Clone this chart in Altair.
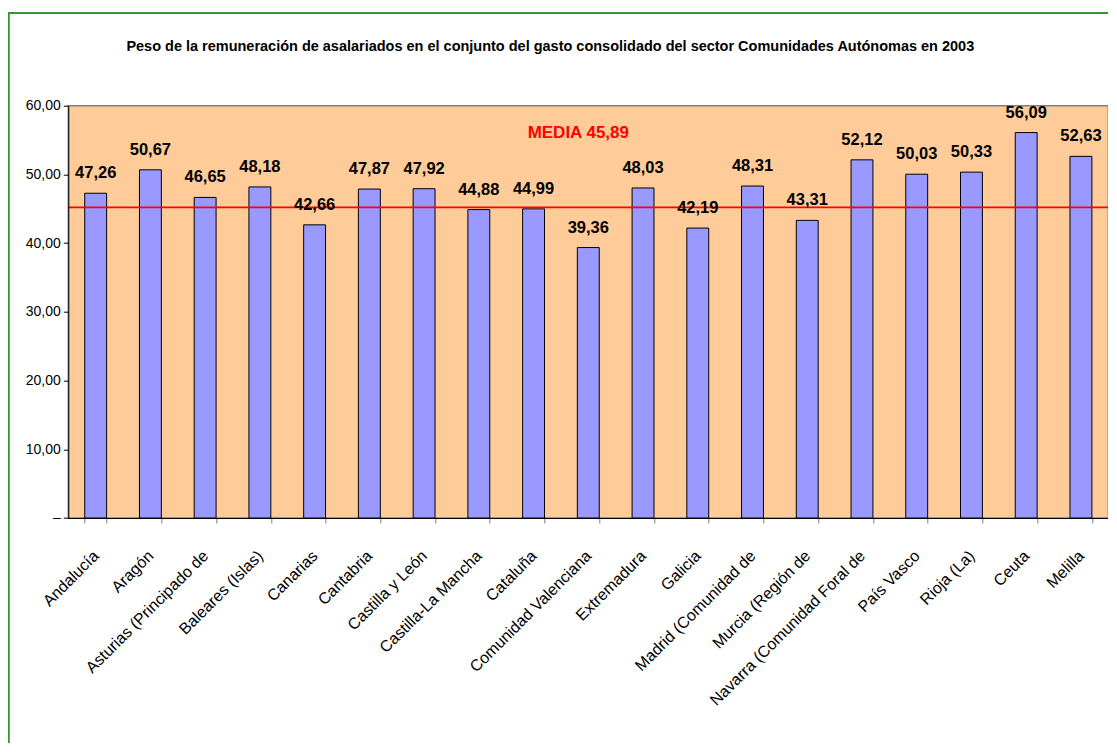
import altair as alt
import pandas as pd

categories = [
    "Andalucía", "Aragón", "Asturias (Principado de", "Baleares (Islas)",
    "Canarias", "Cantabria", "Castilla y León", "Castilla-La Mancha",
    "Cataluña", "Comunidad Valenciana", "Extremadura", "Galicia",
    "Madrid (Comunidad de", "Murcia (Región de", "Navarra (Comunidad Foral de",
    "País Vasco", "Rioja (La)", "Ceuta", "Melilla",
]
values = [47.26, 50.67, 46.65, 48.18, 42.66, 47.87, 47.92, 44.88, 44.99, 39.36,
          48.03, 42.19, 48.31, 43.31, 52.12, 50.03, 50.33, 56.09, 52.63]
media = 45.89          # value printed in the annotation
media_line = 45.2      # height at which the red line is drawn in the picture
y_ticks = [0, 10, 20, 30, 40, 50, 60]
title_text = ("Peso de la remuneración de asalariados en el conjunto del gasto "
              "consolidado del sector Comunidades Autónomas en 2003")

FONT = "Liberation Sans, Arial, sans-serif"

df = pd.DataFrame({"cat": categories, "val": values})
df["lab"] = [f"{v:.2f}".replace(".", ",") for v in values]

W = 1040
H = 412.3

x_enc = alt.X(
    "cat:N", sort=categories,
    scale=alt.Scale(paddingInner=0.6, paddingOuter=0.3),
    axis=alt.Axis(title=None, labelAngle=-45, labelAlign="right", labelBaseline="middle",
                  labelFontSize=16, labelFont=FONT, labelColor="black", labelPadding=30,
                  labelLimit=500, tickBand="extent", tickSize=5, tickColor="#808080",
                  domainColor="black", zindex=1),
)
y_enc = alt.Y(
    "val:Q",
    scale=alt.Scale(domain=[0, 60], nice=False),
    axis=alt.Axis(title=None, values=y_ticks, grid=False, labelFontSize=14, labelFont=FONT,
                  labelColor="black", labelPadding=3, tickSize=5, tickColor="black",
                  domainColor="black", zindex=1,
                  labelExpr="datum.value == 0 ? '–' : replace(format(datum.value, '.2f'), '.', ',')"),
)

border = alt.Chart(pd.DataFrame({"a": [0]})).mark_rect(
    fillOpacity=0, stroke="#339933", strokeWidth=2
).encode(x=alt.value(-59.5), x2=alt.value(1500), y=alt.value(-92.7), y2=alt.value(1200))

bars = alt.Chart(df).mark_bar(fill="#9999FF", stroke="black", strokeWidth=1).encode(x=x_enc, y=y_enc)

rule = alt.Chart(pd.DataFrame({"m": [media_line]})).mark_rule(color="#FF0000", strokeWidth=1.6).encode(
    y=alt.Y("m:Q")
)

labels = alt.Chart(df).mark_text(
    font=FONT, fontWeight="bold", fontSize=16.5, baseline="alphabetic", dy=-15, color="black"
).encode(x=alt.X("cat:N", sort=categories), y=alt.Y("val:Q"), text="lab:N")

media_text = alt.Chart(pd.DataFrame({"t": [f"MEDIA {media:.2f}".replace(".", ",")]})).mark_text(
    font=FONT, fontWeight="bold", fontSize=17, color="#FF0000", baseline="alphabetic"
).encode(x=alt.value(510), y=alt.value(32.5), text="t:N")

title = alt.Chart(pd.DataFrame({"t": [title_text]})).mark_text(
    font=FONT, fontWeight="bold", fontSize=14.5, color="black", baseline="alphabetic"
).encode(x=alt.value(482), y=alt.value(-55), text="t:N")

chart = alt.layer(border, bars, rule, labels, media_text, title).properties(
    width=W, height=H,
    autosize=alt.AutoSizeParams(type="none"),
    padding={"left": 60.3, "top": 97.7, "right": 0, "bottom": 225},
    background="white",
).configure_view(fill="#FFCC99", stroke="#808080", strokeWidth=1.5)

chart.save("out.html", embed_options={"renderer": "svg", "actions": False})
